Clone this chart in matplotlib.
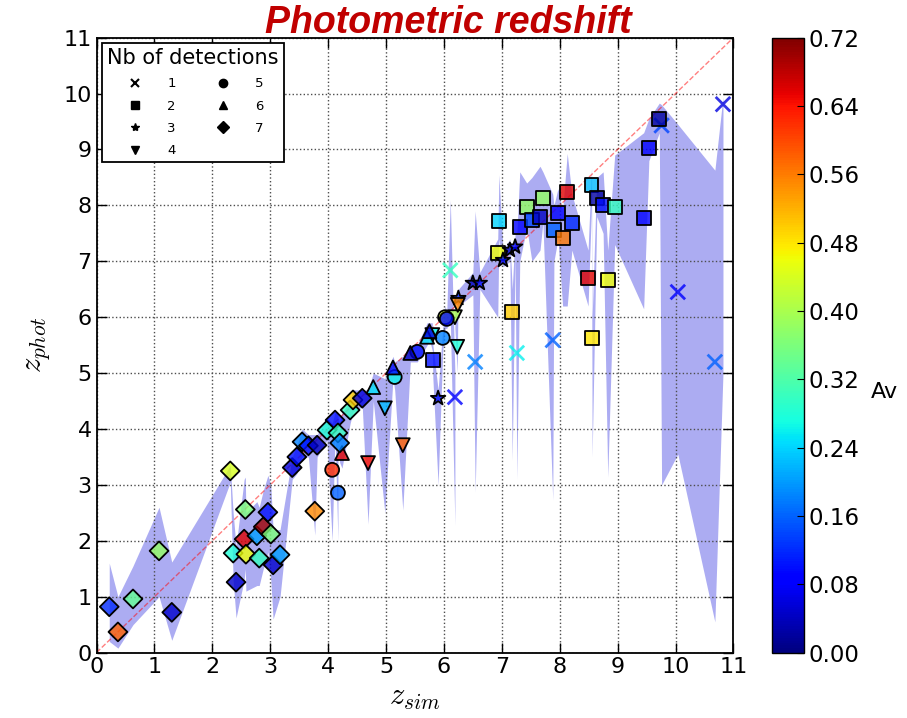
import numpy as np
import pandas as pd
import matplotlib
matplotlib.use('Agg')
import matplotlib.pyplot as plt
from matplotlib.lines import Line2D

# one row per source: z_sim, z_phot, Av, z_phot low, z_phot high
det1 = [(6.11, 6.84, 0.30, 6.0, 8.1), (6.19, 4.57, 0.08, 2.28, 5.0),
        (6.54, 5.20, 0.18, 2.87, 7.9), (7.26, 5.36, 0.26, 3.1, 7.5),
        (7.88, 5.59, 0.16, 2.73, 8.2), (9.76, 9.43, 0.14, 3.0, 9.8),
        (10.04, 6.45, 0.08, 3.55, 9.45), (10.68, 5.20, 0.16, 0.55, 8.63),
        (10.82, 9.81, 0.06, 5.0, 9.94)]
det2 = [(5.81, 5.23, 0.10, 4.9, 5.5), (6.93, 7.15, 0.46, 6.0, 7.4),
        (6.95, 7.72, 0.24, 7.4, 8.55), (7.18, 6.10, 0.50, 3.44, 6.5),
        (7.31, 7.62, 0.08, 7.0, 8.6), (7.43, 7.97, 0.38, 7.6, 8.4),
        (7.52, 7.74, 0.14, 7.0, 8.5), (7.66, 7.80, 0.04, 7.2, 8.7),
        (7.71, 8.13, 0.38, 7.7, 8.6), (7.90, 7.56, 0.16, 7.0, 8.0),
        (7.97, 7.86, 0.08, 7.4, 8.3), (8.05, 7.41, 0.56, 6.2, 7.9),
        (8.13, 8.24, 0.66, 6.2, 8.93), (8.21, 7.68, 0.12, 7.2, 8.2),
        (8.49, 6.70, 0.66, 6.2, 7.2), (8.55, 8.36, 0.22, 8.0, 8.67),
        (8.56, 5.63, 0.48, 3.5, 6.0), (8.64, 8.13, 0.02, 7.8, 8.5),
        (8.75, 8.00, 0.10, 7.5, 8.6), (8.83, 6.67, 0.46, 3.14, 7.2),
        (8.95, 7.97, 0.30, 7.3, 8.9), (9.45, 7.77, 0.08, 6.15, 9.3),
        (9.54, 9.02, 0.08, 8.8, 9.55), (9.72, 9.54, 0.02, 9.3, 9.83)]
det3 = [(5.90, 4.55, 0.10, 3.0, 4.7), (6.25, 6.34, 0.12, 6.2, 6.5),
        (6.50, 6.61, 0.04, 6.4, 6.8), (6.62, 6.61, 0.10, 6.5, 6.8),
        (7.02, 7.02, 0.10, 6.9, 7.2), (7.14, 7.20, 0.04, 7.0, 7.4),
        (7.23, 7.26, 0.08, 7.1, 7.5)]
det4 = [(4.69, 3.39, 0.64, 2.3, 4.7), (4.98, 4.37, 0.22, 2.5, 4.9),
        (5.29, 3.71, 0.58, 2.55, 5.3), (5.80, 5.68, 0.26, 5.4, 5.9),
        (6.19, 6.00, 0.40, 5.8, 6.3), (6.23, 5.47, 0.28, 5.0, 6.0),
        (6.24, 6.22, 0.55, 6.0, 6.4)]
det5 = [(4.07, 3.27, 0.62, 2.0, 4.1), (4.17, 2.86, 0.16, 2.0, 4.3),
        (5.15, 4.93, 0.26, 4.7, 5.2), (5.54, 5.38, 0.10, 5.2, 5.5),
        (5.98, 5.63, 0.18, 5.4, 5.8), (6.02, 6.00, 0.44, 5.8, 6.2),
        (6.05, 5.97, 0.10, 5.8, 6.1)]
det6 = [(4.24, 3.57, 0.66, 3.3, 4.3), (4.78, 4.75, 0.25, 4.5, 5.0),
        (5.12, 5.10, 0.10, 4.9, 5.3), (5.42, 5.36, 0.04, 5.2, 5.5),
        (5.71, 5.65, 0.25, 5.5, 5.9), (5.75, 5.75, 0.06, 5.6, 5.9)]
det7 = [(0.22, 0.82, 0.12, 0.2, 1.6), (0.37, 0.37, 0.58, 0.08, 1.0),
        (0.63, 0.96, 0.34, 0.5, 1.55), (1.08, 1.82, 0.38, 1.0, 2.6),
        (1.30, 0.72, 0.05, 0.22, 1.62), (2.31, 3.25, 0.44, 3.05, 3.35),
        (2.36, 1.78, 0.28, 1.3, 2.5), (2.41, 1.26, 0.05, 0.62, 1.9),
        (2.55, 2.03, 0.66, 1.3, 3.1), (2.57, 2.56, 0.36, 1.5, 3.14),
        (2.58, 1.76, 0.46, 1.1, 2.5), (2.77, 2.09, 0.20, 1.2, 2.7),
        (2.81, 1.69, 0.30, 1.2, 2.6), (2.88, 2.25, 0.70, 1.5, 2.9),
        (2.96, 2.51, 0.10, 1.8, 3.17), (3.01, 2.12, 0.36, 1.3, 3.0),
        (3.05, 1.57, 0.05, 0.6, 2.2), (3.17, 1.75, 0.20, 1.0, 2.2),
        (3.38, 3.31, 0.06, 3.1, 3.5), (3.46, 3.50, 0.10, 3.2, 3.7),
        (3.55, 3.77, 0.18, 3.5, 4.0), (3.66, 3.70, 0.10, 3.5, 3.9),
        (3.77, 2.53, 0.55, 2.1, 3.9), (3.81, 3.71, 0.04, 3.5, 3.9),
        (3.98, 3.98, 0.28, 3.8, 4.2), (4.12, 4.16, 0.10, 3.9, 4.3),
        (4.17, 3.93, 0.30, 3.7, 4.2), (4.20, 3.75, 0.18, 3.4, 4.1),
        (4.38, 4.34, 0.30, 4.1, 4.5), (4.43, 4.52, 0.50, 4.3, 4.7),
        (4.59, 4.55, 0.06, 4.4, 4.7)]

groups = [det1, det2, det3, det4, det5, det6, det7]
markers = ['x', 's', '*', 'v', 'o', '^', 'D']
sizes = [110, 100, 120, 100, 100, 100, 92]
av_ticks = np.arange(0, 0.73, 0.08)

plt.rcParams['mathtext.fontset'] = 'cm'

fig = plt.figure(figsize=(9.07, 7.18), dpi=100)
ax = fig.add_axes([0.1064, 0.0911, 0.7022, 0.8564])
cax = fig.add_axes([0.8512, 0.0911, 0.0353, 0.8564])

cols = ['z_sim', 'z_phot', 'av', 'lo', 'hi']
frames = [pd.DataFrame(g, columns=cols).assign(nb=i + 1) for i, g in enumerate(groups)]
df = pd.concat(frames).sort_values('z_sim', kind='stable')

norm = plt.Normalize(0, 0.72)
cmap = plt.get_cmap('jet')

# error band + 1:1 line
ax.fill_between(df.z_sim, df.lo, df.hi, color='#5a5ae6', alpha=0.5, lw=0, zorder=1)
ax.plot([0, 11], [0, 11], '--', color='red', alpha=0.5, lw=1, zorder=2)

for nb, m, s in zip(range(1, 8), markers, sizes):
    d = df[df.nb == nb]
    fc = cmap(norm(d.av.values))
    fc[:, 3] = 0.8
    if m == 'x':
        ax.scatter(d.z_sim, d.z_phot, c=fc, marker=m, s=s, linewidths=2, zorder=3)
    else:
        ax.scatter(d.z_sim, d.z_phot, facecolors=fc, marker=m, s=s,
                   edgecolors='k', linewidths=1.3, zorder=3)

ax.set_xlim(0, 11)
ax.set_ylim(0, 11)
ax.set_xticks(range(12))
ax.set_yticks(range(12))
ax.tick_params(direction='in', top=True, right=True, length=7, width=1, labelsize=16)
ax.grid(True, ls=':', color='0.3', lw=1)
for sp in ax.spines.values():
    sp.set_linewidth(1.3)
ax.set_xlabel('$z_{sim}$', fontsize=22, labelpad=4)
ax.set_ylabel('$z_{phot}$', fontsize=22, labelpad=8)

handles = []
for nb, m in zip(range(1, 8), markers):
    handles.append(Line2D([], [], ls='', marker=m, color='k', markersize=6,
                          markeredgewidth=1.5 if m == 'x' else 1, label=str(nb)))
leg = ax.legend(handles=handles, ncol=2, loc='upper left', title='Nb of detections',
                title_fontsize=15, fontsize=9.5, fancybox=False, edgecolor='k',
                framealpha=1, borderaxespad=0.4, columnspacing=2.6, handletextpad=1.4,
                labelspacing=0.7, borderpad=0.4)
leg.get_frame().set_linewidth(1.3)

sm = plt.cm.ScalarMappable(norm=norm, cmap=cmap)
cb = fig.colorbar(sm, cax=cax, ticks=av_ticks, format='%.2f')
cb.ax.tick_params(direction='in', length=5, labelsize=16.5)
cb.outline.set_linewidth(1)
cax.set_ylabel('Av', rotation=0, fontsize=16)
cax.yaxis.set_label_coords(3.5, 0.44)

fig.text(0.494, 0.968, 'Photometric redshift', ha='center', va='center',
         fontsize=27, fontweight='bold', fontstyle='italic', color='#c00000',
         family='Liberation Sans')

fig.savefig('out.png', dpi=100)
